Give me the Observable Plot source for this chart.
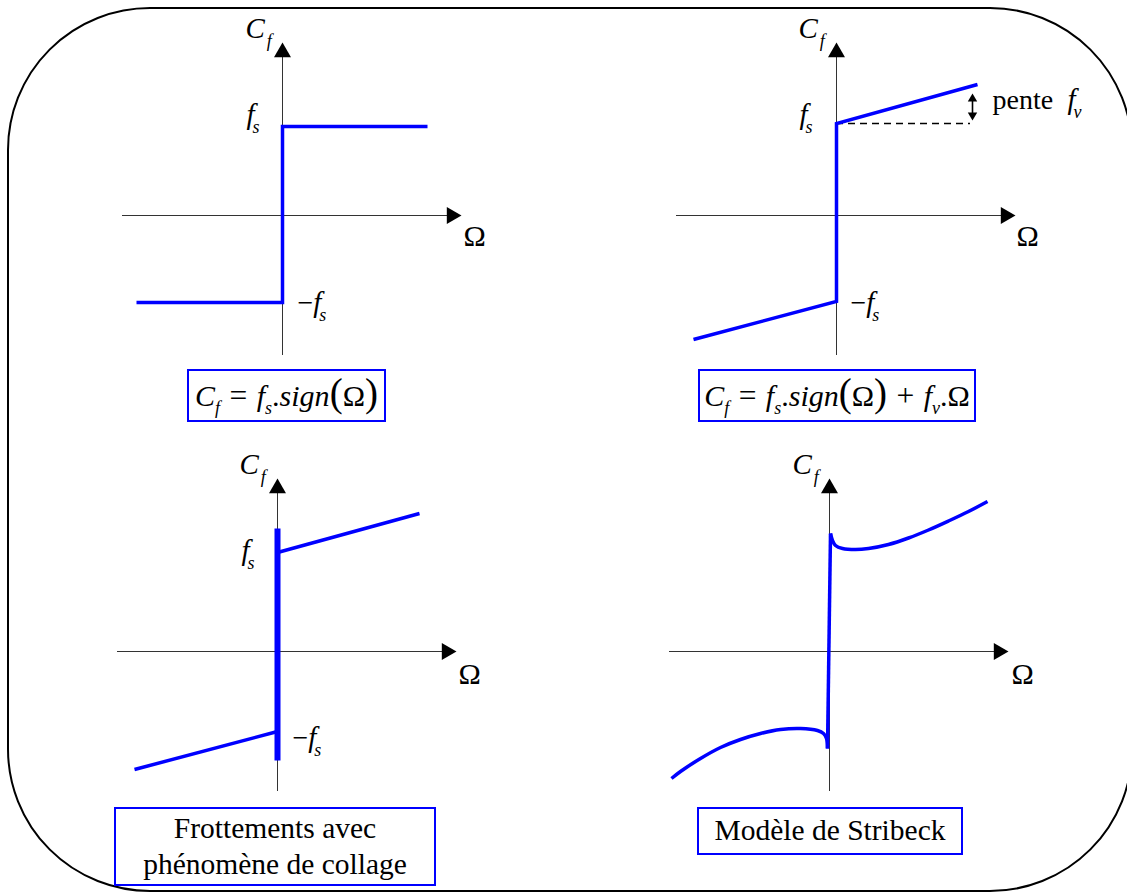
<!DOCTYPE html>
<html>
<head>
<meta charset="utf-8">
<script src="https://cdn.jsdelivr.net/npm/d3@7"></script>
<script src="https://cdn.jsdelivr.net/npm/@observablehq/plot@0.6"></script>
<style>
  html, body { margin: 0; padding: 0; background: #fff; overflow: hidden; }
  #figure { position: relative; width: 1127px; height: 894px; overflow: hidden;
            font-family: "Liberation Serif", "Times New Roman", serif; color: #000; }
  #cadre { position: absolute; left: 7px; top: 7px; width: 1126px; height: 885px;
           border: 2px solid #000; border-radius: 143px; box-sizing: border-box; }
  .panneau { position: absolute; width: 480px; height: 390px; }
  .panneau svg { max-width: none !important; }
  .legende { position: absolute; box-sizing: border-box; border: 2px solid #0000ff;
             display: flex; align-items: center; justify-content: center; text-align: center;
             font-size: 29.5px; line-height: 1.2; white-space: nowrap; }
  .formule { font-size: 30px; }
  .formule i { font-style: italic; }
  .formule sub { font-size: 0.6em; vertical-align: -0.45em; line-height: 0; }
  .formule .par { font-size: 1.3em; line-height: 0; position: relative; top: 0.02em; }
  .formule .op { padding: 0 0.3em; font-size: 1.05em; }
</style>
</head>
<body>
<div id="figure">
  <div id="cadre"></div>
  <div class="legende formule" style="left:187px;top:369px;width:199px;height:53px">
    <span><i>C</i><sub><i>f</i></sub><span class="op">=</span><i>f</i><sub><i>s</i></sub>.<i>sign</i><span class="par">(</span>Ω<span class="par">)</span></span>
  </div>
  <div class="legende formule" style="left:698px;top:369px;width:278px;height:53px">
    <span><i>C</i><sub><i>f</i></sub><span class="op">=</span><i>f</i><sub><i>s</i></sub>.<i>sign</i><span class="par">(</span>Ω<span class="par">)</span><span class="op">+</span><i>f</i><sub><i>v</i></sub>.Ω</span>
  </div>
  <div class="legende" style="left:114px;top:807px;width:322px;height:79px">Frottements avec<br>phénomène de collage</div>
  <div class="legende" style="left:697px;top:807px;width:266px;height:48px">Modèle de Stribeck</div>
</div>
<script>
// Axes shared by the four diagrams (Ω horizontal, Cf vertical), arrow tips included
const axeOmega = [-1.60, 1.79];
const axeCf = [-1.40, 1.73];

// Dry friction: Cf = fs.sign(Ω)
const secOmega = [-1.46, 0, 0, 1.45];
const secCf = [-0.87, -0.87, 0.89, 0.89];

// Dry + viscous friction: Cf = fs.sign(Ω) + fv.Ω
const visqOmega = [-1.43, 0, 0, 1.41];
const visqCf = [-1.24, -0.86, 0.92, 1.31];
const visqSeuilOmega = [0, 1.34];      // dashed reference at the fs level
const visqSeuilCf = 0.92;
const penteOmega = 1.36;               // double arrow showing the slope fv
const penteCf = [0.95, 1.22];

// Friction with sticking (stick phase drawn as a thick segment at Ω = 0)
const collageColleCf = [-1.09, 1.23];
const collagePosOmega = [0, 1.42];
const collagePosCf = [0.99, 1.38];
const collageNegOmega = [-1.43, 0];
const collageNegCf = [-1.18, -0.80];

// Stribeck model
const stribeckNegOmega = [-1.58, -1.49, -1.29, -1.09, -0.89, -0.69, -0.49, -0.29, -0.12, -0.06, -0.03, -0.02];
const stribeckNegCf = [-1.27, -1.20, -1.07, -0.96, -0.88, -0.82, -0.78, -0.77, -0.79, -0.82, -0.87, -0.97];
const stribeckSautOmega = [-0.02, 0.01];
const stribeckSautCf = [-0.97, 1.18];
const stribeckPosOmega = [0.01, 0.03, 0.06, 0.13, 0.26, 0.39, 0.59, 0.79, 0.99, 1.19, 1.39, 1.58];
const stribeckPosCf = [1.18, 1.11, 1.06, 1.03, 1.02, 1.03, 1.07, 1.135, 1.215, 1.305, 1.40, 1.50];

// Labels: upright prefix, italic symbol, italic subscript
const etiquettesSec = [
  {omega: -0.37, cf: 1.78, pre: "", it: "C", sub: "f"},
  {omega: -0.36, cf: 0.92, pre: "", it: "f", sub: "s"},
  {omega: 0.15, cf: -0.96, pre: "−", it: "f", sub: "s"},
  {omega: 1.81, cf: -0.30, pre: "Ω", it: "", sub: ""}
];
const etiquettesVisq = [
  {omega: -0.38, cf: 1.78, pre: "", it: "C", sub: "f"},
  {omega: -0.37, cf: 0.92, pre: "", it: "f", sub: "s"},
  {omega: 0.14, cf: -0.96, pre: "−", it: "f", sub: "s"},
  {omega: 1.80, cf: -0.30, pre: "Ω", it: "", sub: ""},
  {omega: 1.56, cf: 1.07, pre: "pente", it: "", sub: ""},
  {omega: 2.31, cf: 1.07, pre: "", it: "f", sub: "v"}
];
const etiquettesCollage = [
  {omega: -0.38, cf: 1.78, pre: "", it: "C", sub: "f"},
  {omega: -0.36, cf: 0.92, pre: "", it: "f", sub: "s"},
  {omega: 0.15, cf: -0.95, pre: "−", it: "f", sub: "s"},
  {omega: 1.81, cf: -0.32, pre: "Ω", it: "", sub: ""}
];
const etiquettesStribeck = [
  {omega: -0.37, cf: 1.78, pre: "", it: "C", sub: "f"},
  {omega: 1.82, cf: -0.32, pre: "Ω", it: "", sub: ""}
];

const bleu = "#0000ff";
const serie = (omega, cf, seg) => omega.map((o, i) => ({omega: o, cf: Array.isArray(cf) ? cf[i] : cf, seg}));

// Subscripts and italics inside the SVG labels
function typeset(svg, rows) {
  d3.select(svg).selectAll("text").each(function(_, i) {
    const d = rows[i];
    if (!d) return;
    const t = d3.select(this).text(null);
    if (d.pre) t.append("tspan").attr("font-style", "normal")
      .attr("font-size", d.pre === "Ω" ? 30 : null).text(d.pre);
    if (d.it) t.append("tspan").attr("font-style", "italic").attr("font-size", 29).text(d.it);
    if (d.sub) t.append("tspan").attr("font-style", "italic").attr("font-size", 18)
      .attr("dx", d.it === "C" ? 2 : -2).attr("dy", 9).text(d.sub);
  });
}

function panneau({traces, etiquettes, extra = []}) {
  const svg = Plot.plot({
    width: 480, height: 390, margin: 0,
    x: {domain: [-1.8, 3.0], axis: null},
    y: {domain: [-1.9, 2.0], axis: null},
    style: {background: "transparent", overflow: "visible", maxWidth: "none",
            fontFamily: "'Liberation Serif', 'Times New Roman', serif"},
    marks: [
      Plot.ruleY([0], {x1: axeOmega[0], x2: axeOmega[1] - 0.12, stroke: "#333", strokeWidth: 1}),
      Plot.ruleX([0], {y1: axeCf[0], y2: axeCf[1] - 0.12, stroke: "#333", strokeWidth: 1}),
      Plot.dot([axeOmega[1]], {x: d => d, y: 0, symbol: "triangle", r: 6.3, rotate: 90, dx: -9.8, fill: "#000", stroke: "none"}),
      Plot.dot([axeCf[1]], {x: 0, y: d => d, symbol: "triangle", r: 6.3, dy: 9.8, fill: "#000", stroke: "none"}),
      ...extra,
      ...traces.map(({rows, width, curve}) => Plot.line(rows, {
        x: "omega", y: "cf", z: "seg", curve: curve || "linear",
        stroke: bleu, strokeWidth: width, strokeLinejoin: "miter", strokeLinecap: "butt", strokeMiterlimit: 4
      })),
      Plot.text(etiquettes, {
        x: "omega", y: "cf", text: d => d.pre + d.it + d.sub,
        textAnchor: "start", lineAnchor: "bottom", fontSize: 28, fill: "#000"
      })
    ]
  });
  typeset(svg, etiquettes);
  return svg;
}

const figure = document.getElementById("figure");
function place(svg, origine) {
  const div = document.createElement("div");
  div.className = "panneau";
  div.style.left = (origine[0] - 180) + "px";
  div.style.top = (origine[1] - 200) + "px";
  div.appendChild(svg);
  figure.appendChild(div);
}

place(panneau({
  traces: [{rows: serie(secOmega, secCf, "sec"), width: 3.5}],
  etiquettes: etiquettesSec
}), [282, 215]);

place(panneau({
  traces: [{rows: serie(visqOmega, visqCf, "visq"), width: 3.5}],
  etiquettes: etiquettesVisq,
  extra: [
    Plot.ruleY([visqSeuilCf], {x1: visqSeuilOmega[0], x2: visqSeuilOmega[1], stroke: "#000", strokeWidth: 1.5, strokeDasharray: "7,5"}),
    Plot.ruleX([penteOmega], {y1: penteCf[0] + 0.05, y2: penteCf[1] - 0.05, stroke: "#000", strokeWidth: 1.6}),
    Plot.dot([penteCf[1]], {x: penteOmega, y: d => d, symbol: "triangle", r: 3.5, dy: 5.4, fill: "#000", stroke: "none"}),
    Plot.dot([penteCf[0]], {x: penteOmega, y: d => d, symbol: "triangle", r: 3.5, rotate: 180, dy: -5.4, fill: "#000", stroke: "none"})
  ]
}), [836, 215]);

place(panneau({
  traces: [
    {rows: serie([0, 0], collageColleCf, "colle"), width: 6},
    {rows: [...serie(collagePosOmega, collagePosCf, "pos"), ...serie(collageNegOmega, collageNegCf, "neg")], width: 3.5}
  ],
  etiquettes: etiquettesCollage
}), [277, 651]);

place(panneau({
  traces: [{
    rows: [
      ...serie(stribeckNegOmega, stribeckNegCf, "neg"),
      ...serie(stribeckSautOmega, stribeckSautCf, "saut"),
      ...serie(stribeckPosOmega, stribeckPosCf, "pos")
    ],
    width: 3.5, curve: "catmull-rom"
  }],
  etiquettes: etiquettesStribeck
}), [829, 651]);
</script>
</body>
</html>
